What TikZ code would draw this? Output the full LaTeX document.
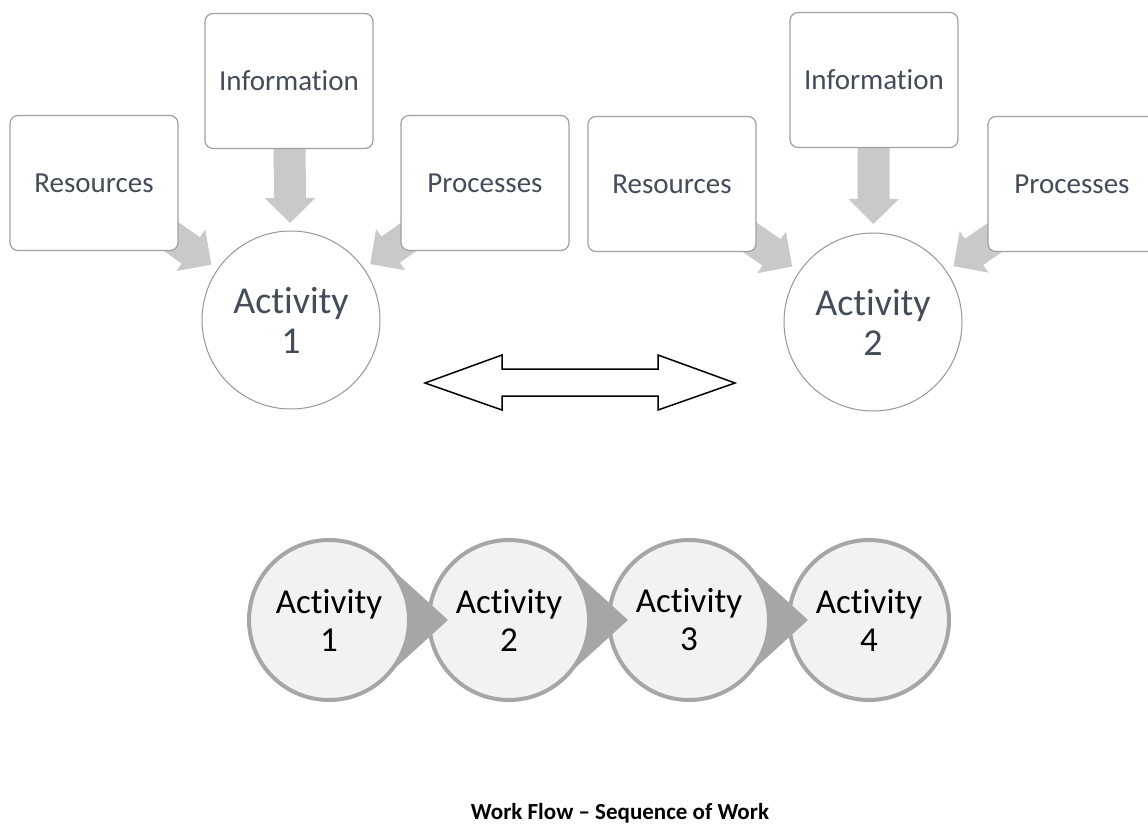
\documentclass[tikz,border=0pt]{standalone}
\usepackage{fontspec}
\setmainfont{Carlito}[Ligatures=NoCommon]
\usetikzlibrary{calc,backgrounds,arrows.meta}
\definecolor{txt}{RGB}{68,76,90}
\definecolor{boxline}{RGB}{160,160,160}
\definecolor{circline}{RGB}{150,150,150}
\definecolor{arrgray}{RGB}{201,201,201}
\definecolor{wedgec}{RGB}{166,166,166}
\definecolor{cfill}{RGB}{242,242,242}
\begin{document}
\begin{tikzpicture}[x=1pt,y=-1pt,
 infobox/.style={draw=boxline, line width=1.2pt, rounded corners=8pt, fill=white,
   minimum width=168pt, minimum height=135pt, inner sep=0pt, text=txt,
   font=\fontsize{29}{35}\selectfont},
 actcircle/.style={circle, draw=circline, line width=1pt, fill=white, minimum size=178pt,
   inner sep=0pt, align=center, text=txt, font=\fontsize{38}{40}\selectfont},
 feed/.style={draw=arrgray, line width=32pt, line cap=butt,
   -{Triangle[width=49pt,length=25pt,fill=arrgray]}},
 seqcircle/.style={circle, draw=wedgec, line width=4pt, fill=cfill, minimum size=160pt,
   inner sep=0pt, align=center, font=\fontsize{35}{38}\selectfont},
 wedgefill/.style={fill=wedgec},
 dblarrow/.style={draw=black, line width=1.5pt, fill=white, line join=miter},
 captionstyle/.style={anchor=base, font=\fontsize{23}{28}\selectfont\bfseries}
]
\useasboundingbox (0,0) rectangle (1148,826);

% ---- left group
\node[infobox] (res1)  at (94,183)  {Resources};
\node[infobox] (info1) at (289,81)  {Information};
\node[infobox] (proc1) at (485,183) {Processes};
\node[actcircle] (act1) at (291,320) {Activity\\1};

% ---- right group
\node[infobox] (res2)  at (672,184)  {Resources};
\node[infobox] (info2) at (874,80)   {Information};
\node[infobox] (proc2) at (1072,184) {Processes};
\node[actcircle] (act2) at (873,322) {Activity\\2};

\begin{scope}[on background layer]
\draw[feed] (res1.center)  -- ($(act1.center)!97pt!(res1.center)$);
\draw[feed] (info1.center) -- ($(act1.center)!97pt!(info1.center)$);
\draw[feed] (proc1.center) -- ($(act1.center)!97pt!(proc1.center)$);
\draw[feed] (res2.center)  -- ($(act2.center)!98pt!(res2.center)$);
\draw[feed] (info2.center) -- ($(act2.center)!98pt!(info2.center)$);
\draw[feed] (proc2.center) -- ($(act2.center)!98pt!(proc2.center)$);
\end{scope}

% ---- double arrow
\coordinate (da) at (580,383);
\draw[dblarrow, shift={(da)}] (-155,0) -- (-78,-28) -- (-78,-14) -- (78,-14) -- (78,-28)
  -- (155,0) -- (78,27) -- (78,13) -- (-78,13) -- (-78,27) -- cycle;

% ---- sequence
\coordinate (c1) at (329,620);
\coordinate (c2) at (509,620);
\coordinate (c3) at (689,620);
\coordinate (c4) at (869,620);
\node[seqcircle] (s4) at (c4) {Activity\\4};
\fill[wedgefill] ($(c3)+(48:80)$) -- ($(c3)+(119,0)$) -- ($(c3)+(-48:80)$) -- cycle;
\node[seqcircle] (s3) at (c3) {Activity\\3};
\fill[wedgefill] ($(c2)+(48:80)$) -- ($(c2)+(119,0)$) -- ($(c2)+(-48:80)$) -- cycle;
\node[seqcircle] (s2) at (c2) {Activity\\2};
\fill[wedgefill] ($(c1)+(48:80)$) -- ($(c1)+(119,0)$) -- ($(c1)+(-48:80)$) -- cycle;
\node[seqcircle] (s1) at (c1) {Activity\\1};

\node[captionstyle] (cap) at (620,819) {Work Flow – Sequence of Work};
\end{tikzpicture}
\end{document}
